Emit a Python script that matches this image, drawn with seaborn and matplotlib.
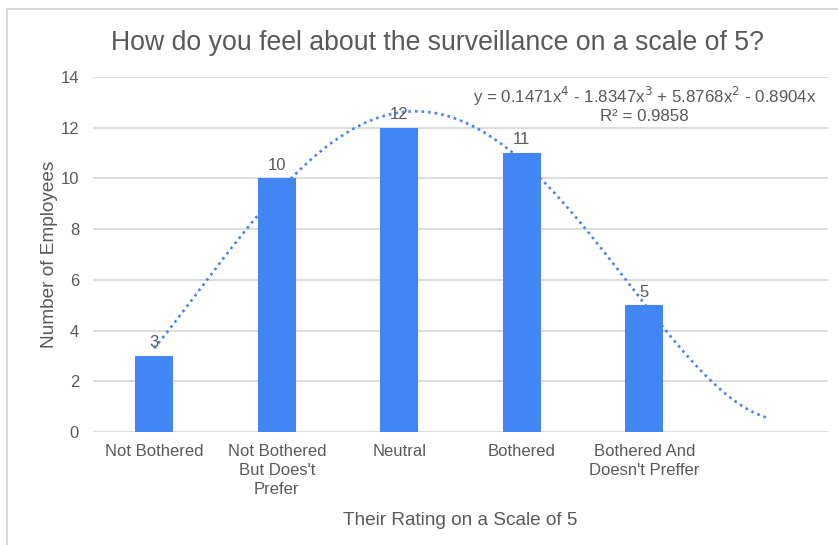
import numpy as np
import pandas as pd
import matplotlib
matplotlib.use("Agg")
import matplotlib.pyplot as plt
from matplotlib.patches import Rectangle
import seaborn as sns

categories = ["Not Bothered", "Not Bothered\nBut Does't\nPrefer", "Neutral",
              "Bothered", "Bothered And\nDoesn't Preffer"]
employees = [3, 10, 12, 11, 5]
# trendline coefficients as shown on the chart (x^4, x^3, x^2, x, const)
trend_coefs = [0.1471, -1.8347, 5.8768, -0.8904, 0.0]
r_squared = 0.9858
y_ticks = [0, 2, 4, 6, 8, 10, 12, 14]

sns.set_theme(style="white")
plt.rcParams['font.family'] = ['Liberation Sans', 'DejaVu Sans']

TEXT = "#595959"
BLUE = "#4285F4"
GRID = "#D9D9D9"

fig = plt.figure(figsize=(8.38, 5.45), dpi=100)
ax = fig.add_axes([93/838, 1 - 432/545, (828-93)/838, (432-77)/545])

df = pd.DataFrame({"cat": categories, "n": employees})
sns.barplot(data=df, x="cat", y="n", color=BLUE, width=0.31, saturation=1,
            linewidth=0, edgecolor=BLUE, ax=ax, zorder=3)

# polynomial trendline, extended one period forward
xs = np.linspace(1, len(employees) + 1, 300)
ys = np.polyval(trend_coefs, xs)
ax.plot(xs - 1, ys, color=BLUE, linestyle=(0, (1, 1.5)), linewidth=1.9, zorder=4)

for i, v in enumerate(employees):
    ax.text(i, v + 0.22, str(v), ha="center", va="bottom", fontsize=12,
            color=TEXT, zorder=5)

ax.set_xlim(-0.5, len(employees) + 0.5)
ax.set_ylim(0, 14)
ax.set_yticks(y_ticks)
ax.yaxis.grid(True, color=GRID, linewidth=1.3)
ax.set_axisbelow(True)
for s in ax.spines.values():
    s.set_visible(False)
ax.tick_params(axis="both", length=0, colors=TEXT, labelsize=12)
ax.tick_params(axis="y", pad=10)
ax.tick_params(axis="x", pad=9)
ax.set_xticks(range(len(categories)))
ax.set_xticklabels(categories, fontsize=12, color=TEXT, linespacing=1.3)

ax.set_xlabel("Their Rating on a Scale of 5", fontsize=13.7, color=TEXT, labelpad=11)
ax.set_ylabel("Number of Employees", fontsize=13.7, color=TEXT, labelpad=2)

a4, a3, a2, a1, _ = trend_coefs
eq = (f"y = {a4:.4f}x$^4$ - {abs(a3):.4f}x$^3$ + {a2:.4f}x$^2$ - {abs(a1):.4f}x\n"
      f"R² = {r_squared:.4f}")
ax.text(4.0, 12.93, eq, ha="center", va="center", fontsize=12.2, color=TEXT,
        linespacing=1.1, zorder=5)

fig.text(0.522, 1 - 43/545, "How do you feel about the surveillance on a scale of 5?",
         ha="center", va="center", fontsize=19.2, color=TEXT)

fig.patches.append(Rectangle((7/838, -0.05), 1.1, 1 - 9/545 + 0.05,
                             transform=fig.transFigure, fill=False,
                             edgecolor="#D9D9D9", linewidth=1.5))

fig.savefig("out.png", dpi=100)
